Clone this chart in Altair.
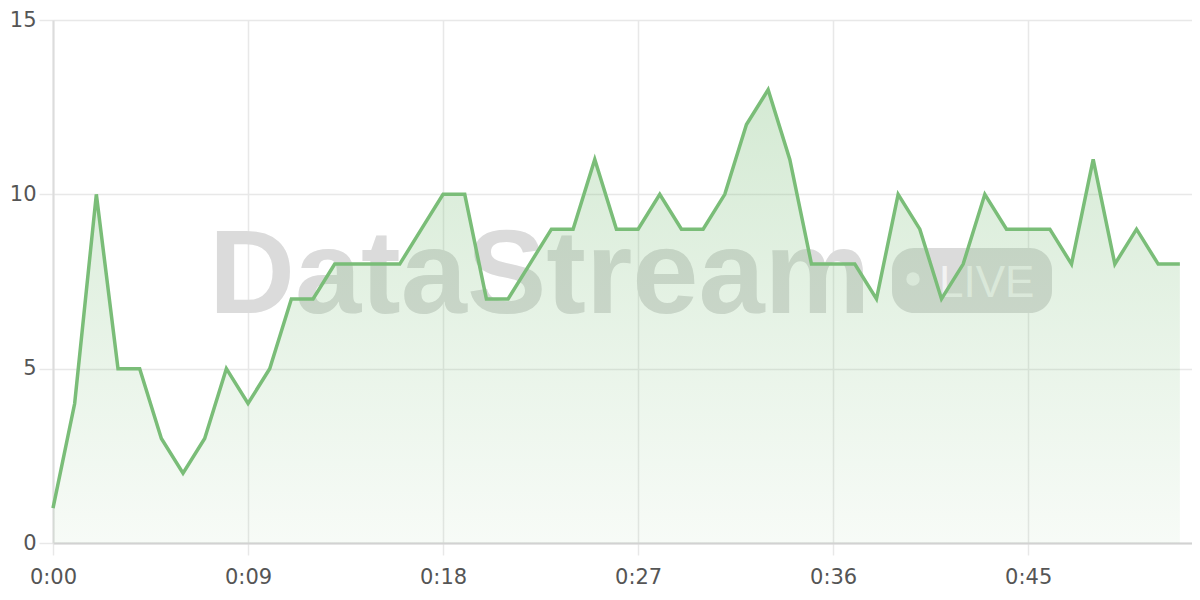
import altair as alt
import pandas as pd

seconds = list(range(53))
values = [1, 4, 10, 5, 5, 3, 2, 3, 5, 4,
          5, 7, 7, 8, 8, 8, 8, 9, 10, 10,
          7, 7, 8, 9, 9, 11, 9, 9, 10, 9,
          9, 10, 12, 13, 11, 8, 8, 8, 7, 10,
          9, 7, 8, 10, 9, 9, 9, 8, 11, 8,
          9, 8, 8]
x_ticks = [0, 9, 18, 27, 36, 45]
y_ticks = [0, 5, 10, 15]
watermark = ["DataStream"]
badge_text = ["LIVE"]

df = pd.DataFrame({"t": seconds, "v": values})

GREEN = "#7abd78"
W, H = 1139, 523

x_enc = alt.X("t:Q",
              scale=alt.Scale(domain=[0, 52.56], nice=False, zero=True),
              axis=alt.Axis(values=x_ticks, title=None,
                            labelExpr="'0:' + (datum.value < 10 ? '0' : '') + datum.value",
                            grid=True, gridColor="#e8e8e8", gridWidth=1.5,
                            ticks=True, tickSize=12, tickColor="#e8e8e8", tickWidth=1.5,
                            domain=True, domainColor="#d2d2d2", domainWidth=2,
                            labelFont="DejaVu Sans", labelFontSize=21, labelColor="#555555",
                            labelPadding=11, labelFlush=False))
y_enc = alt.Y("v:Q",
              scale=alt.Scale(domain=[0, 15], nice=False),
              axis=alt.Axis(values=y_ticks, title=None,
                            grid=True, gridColor="#e8e8e8", gridWidth=1.5,
                            ticks=True, tickSize=14, tickColor="#e8e8e8", tickWidth=1.5,
                            domain=True, domainColor="#dcdcdc", domainWidth=2,
                            labelFont="DejaVu Sans", labelFontSize=21, labelColor="#555555",
                            labelPadding=3, labelFlush=False))

wm = alt.Chart(pd.DataFrame({"s": watermark})).mark_text(
    font="Liberation Sans", fontWeight="bold", fontSize=119, color="#dbdbdb",
    align="left", baseline="alphabetic"
).encode(x=alt.value(156), y=alt.value(293), text="s:N")

badge = alt.Chart(pd.DataFrame({"s": badge_text})).mark_rect(
    color="#dbdbdb", cornerRadius=22
).encode(x=alt.value(839), x2=alt.value(999), y=alt.value(228), y2=alt.value(293))

dot = alt.Chart(pd.DataFrame({"s": badge_text})).mark_circle(
    color="#f3f3f3", opacity=1, size=180
).encode(x=alt.value(860), y=alt.value(259))

live = alt.Chart(pd.DataFrame({"s": badge_text})).mark_text(
    font="Liberation Sans", fontSize=44, color="#f3f3f3",
    align="left", baseline="alphabetic"
).encode(x=alt.value(886), y=alt.value(277), text="s:N")

base = alt.Chart(df)
area = base.mark_area(
    color=alt.Gradient(gradient="linear",
                       stops=[alt.GradientStop(color="rgba(122,189,120,0.32)", offset=0),
                              alt.GradientStop(color="rgba(122,189,120,0.06)", offset=1)],
                       x1=1, x2=1, y1=0, y2=1)
).encode(x=x_enc, y=y_enc)
line = base.mark_line(color=GREEN, strokeWidth=3.5, strokeJoin="miter").encode(x=x_enc, y=y_enc)

chart = alt.layer(wm, badge, dot, live, area, line).properties(
    width=W, height=H,
    autosize=alt.AutoSizeParams(type="none"),
    padding={"left": 45, "top": 12, "right": 0, "bottom": 50}
).configure_view(stroke=None)

chart.save("out.html", embed_options={"renderer": "svg", "actions": False})
